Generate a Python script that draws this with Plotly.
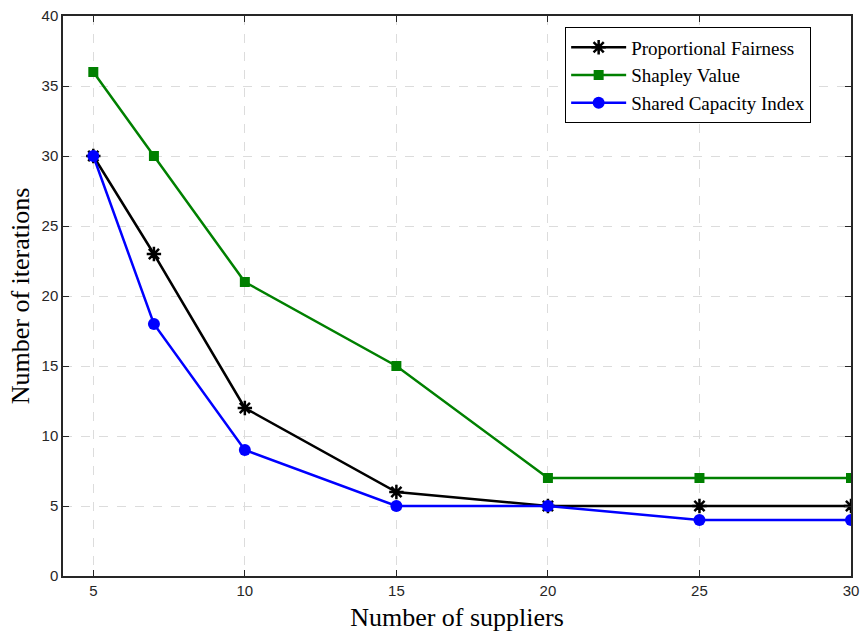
import plotly.graph_objects as go

suppliers = [5, 7, 10, 15, 20, 25, 30]
proportional_fairness = [30, 23, 12, 6, 5, 5, 5]
shapley_value = [36, 30, 21, 15, 7, 7, 7]
shared_capacity_index = [30, 18, 9, 5, 5, 4, 4]

x_ticks = [5, 10, 15, 20, 25, 30]
y_ticks = [0, 5, 10, 15, 20, 25, 30, 35, 40]

fig = go.Figure()
fig.add_trace(go.Scatter(
    x=suppliers, y=proportional_fairness, name="Proportional Fairness",
    mode="lines+markers",
    line=dict(color="black", width=2.5),
    marker=dict(symbol="asterisk-open", size=12, color="black",
                line=dict(color="black", width=2.5)),
))
fig.add_trace(go.Scatter(
    x=suppliers, y=shapley_value, name="Shapley Value",
    mode="lines+markers",
    line=dict(color="#008000", width=2.5),
    marker=dict(symbol="square", size=10, color="#008000"),
))
fig.add_trace(go.Scatter(
    x=suppliers, y=shared_capacity_index, name="Shared Capacity Index",
    mode="lines+markers",
    line=dict(color="#0000ff", width=2.5),
    marker=dict(symbol="circle", size=12, color="#0000ff"),
))

axis_common = dict(
    showline=True, linecolor="#262626", linewidth=1.5, mirror="ticks",
    ticks="inside", ticklen=6, tickcolor="#262626", tickwidth=1.2,
    showgrid=True, gridcolor="#dcdcdc", griddash="dash", gridwidth=1,
    zeroline=False, automargin=False,
    tickfont=dict(family="Liberation Sans, Arial, sans-serif", size=15, color="#262626"),
    title_font=dict(family="Liberation Serif, Times New Roman, serif", size=26, color="black"),
)

fig.update_xaxes(range=[4, 30], tickvals=x_ticks, title_text="Number of suppliers",
                 title_standoff=10, **axis_common)
fig.update_yaxes(range=[0, 40], tickvals=y_ticks, title_text="Number of iterations",
                 title_standoff=4, **axis_common)

fig.update_layout(
    width=861, height=634,
    margin=dict(l=63, r=10, t=16, b=58),
    plot_bgcolor="white", paper_bgcolor="white",
    legend=dict(
        x=0.637, y=0.98, xanchor="left", yanchor="top",
        bgcolor="white", bordercolor="black", borderwidth=1.2,
        font=dict(family="Liberation Serif, Times New Roman, serif", size=19, color="black"),
        tracegroupgap=0, itemwidth=55,
    ),
    showlegend=True,
)

fig.write_html("out.html")
